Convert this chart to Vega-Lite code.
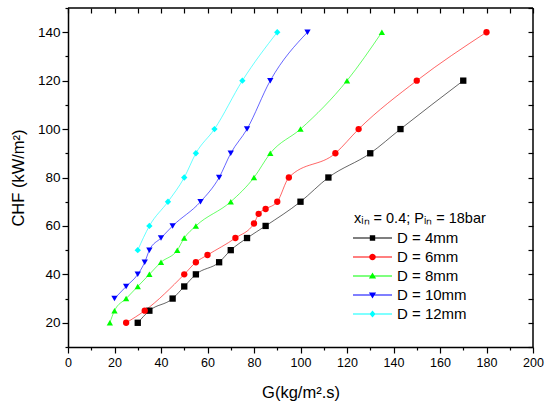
{
  "$schema": "https://vega.github.io/schema/vega-lite/v6.json",
  "width": 465,
  "height": 339,
  "autosize": "none",
  "padding": {"left": 68, "top": 8, "right": 17, "bottom": 61},
  "background": "white",
  "config": {
    "font": "Liberation Sans",
    "view": {"stroke": null},
    "axis": {"grid": false, "domainColor": "black", "domainWidth": 1.5, "tickColor": "black", "tickWidth": 1.2, "labelColor": "black", "titleColor": "black", "labelFontSize": 12.5, "titleFontSize": 16.5, "titleFontWeight": "normal"}
  },
  "data": {
    "values": [
      {"G": 30, "CHF": 20, "series": "D = 4mm"},
      {"G": 35, "CHF": 25, "series": "D = 4mm"},
      {"G": 45, "CHF": 30, "series": "D = 4mm"},
      {"G": 50, "CHF": 35, "series": "D = 4mm"},
      {"G": 55, "CHF": 40, "series": "D = 4mm"},
      {"G": 65, "CHF": 45, "series": "D = 4mm"},
      {"G": 70, "CHF": 50, "series": "D = 4mm"},
      {"G": 77, "CHF": 55, "series": "D = 4mm"},
      {"G": 85, "CHF": 60, "series": "D = 4mm"},
      {"G": 100, "CHF": 70, "series": "D = 4mm"},
      {"G": 112, "CHF": 80, "series": "D = 4mm"},
      {"G": 130, "CHF": 90, "series": "D = 4mm"},
      {"G": 143, "CHF": 100, "series": "D = 4mm"},
      {"G": 170, "CHF": 120, "series": "D = 4mm"},
      {"G": 25, "CHF": 20, "series": "D = 6mm"},
      {"G": 33, "CHF": 25, "series": "D = 6mm"},
      {"G": 50, "CHF": 40, "series": "D = 6mm"},
      {"G": 55, "CHF": 45, "series": "D = 6mm"},
      {"G": 60, "CHF": 48, "series": "D = 6mm"},
      {"G": 72, "CHF": 55, "series": "D = 6mm"},
      {"G": 80, "CHF": 61, "series": "D = 6mm"},
      {"G": 82, "CHF": 65, "series": "D = 6mm"},
      {"G": 85, "CHF": 67, "series": "D = 6mm"},
      {"G": 90, "CHF": 70, "series": "D = 6mm"},
      {"G": 95, "CHF": 80, "series": "D = 6mm"},
      {"G": 115, "CHF": 90, "series": "D = 6mm"},
      {"G": 125, "CHF": 100, "series": "D = 6mm"},
      {"G": 150, "CHF": 120, "series": "D = 6mm"},
      {"G": 180, "CHF": 140, "series": "D = 6mm"},
      {"G": 18, "CHF": 20, "series": "D = 8mm"},
      {"G": 20, "CHF": 25, "series": "D = 8mm"},
      {"G": 25, "CHF": 30, "series": "D = 8mm"},
      {"G": 30, "CHF": 35, "series": "D = 8mm"},
      {"G": 35, "CHF": 40, "series": "D = 8mm"},
      {"G": 40, "CHF": 45, "series": "D = 8mm"},
      {"G": 47, "CHF": 50, "series": "D = 8mm"},
      {"G": 50, "CHF": 55, "series": "D = 8mm"},
      {"G": 55, "CHF": 60, "series": "D = 8mm"},
      {"G": 70, "CHF": 70, "series": "D = 8mm"},
      {"G": 80, "CHF": 80, "series": "D = 8mm"},
      {"G": 87, "CHF": 90, "series": "D = 8mm"},
      {"G": 100, "CHF": 100, "series": "D = 8mm"},
      {"G": 120, "CHF": 120, "series": "D = 8mm"},
      {"G": 135, "CHF": 140, "series": "D = 8mm"},
      {"G": 20, "CHF": 30, "series": "D = 10mm"},
      {"G": 25, "CHF": 35, "series": "D = 10mm"},
      {"G": 30, "CHF": 40, "series": "D = 10mm"},
      {"G": 33, "CHF": 45, "series": "D = 10mm"},
      {"G": 35, "CHF": 50, "series": "D = 10mm"},
      {"G": 40, "CHF": 55, "series": "D = 10mm"},
      {"G": 45, "CHF": 60, "series": "D = 10mm"},
      {"G": 57, "CHF": 70, "series": "D = 10mm"},
      {"G": 65, "CHF": 80, "series": "D = 10mm"},
      {"G": 70, "CHF": 90, "series": "D = 10mm"},
      {"G": 77, "CHF": 100, "series": "D = 10mm"},
      {"G": 87, "CHF": 120, "series": "D = 10mm"},
      {"G": 103, "CHF": 140, "series": "D = 10mm"},
      {"G": 30, "CHF": 50, "series": "D = 12mm"},
      {"G": 35, "CHF": 60, "series": "D = 12mm"},
      {"G": 43, "CHF": 70, "series": "D = 12mm"},
      {"G": 50, "CHF": 80, "series": "D = 12mm"},
      {"G": 55, "CHF": 90, "series": "D = 12mm"},
      {"G": 63, "CHF": 100, "series": "D = 12mm"},
      {"G": 75, "CHF": 120, "series": "D = 12mm"},
      {"G": 90, "CHF": 140, "series": "D = 12mm"}
    ]
  },
  "layer": [
    {
      "data": {"values": [{"edge": "right"}]},
      "mark": {"type": "rule", "color": "black", "strokeWidth": 1.5},
      "encoding": {
        "x": {"datum": 200, "type": "quantitative", "scale": {"domain": [0, 200], "nice": false, "zero": false},
          "axis": {"orient": "top", "title": null, "labels": false, "domain": false, "tickSize": 5, "offset": -5, "values": [0,10,20,30,40,50,60,70,80,90,100,110,120,130,140,150,160,170,180,190,200]}}
      }
    },
    {
      "data": {"values": [{"edge": "top"}]},
      "mark": {"type": "rule", "color": "black", "strokeWidth": 1.5},
      "encoding": {
        "y": {"datum": 150, "type": "quantitative", "scale": {"domain": [10, 150], "nice": false, "zero": false},
          "axis": {"orient": "right", "title": null, "labels": false, "domain": false, "tickSize": 5, "offset": -5, "values": [10,20,30,40,50,60,70,80,90,100,110,120,130,140,150]}}
      }
    },
    {
      "mark": {"type": "line", "interpolate": "monotone", "strokeWidth": 1, "opacity": 0.6},
      "encoding": {
        "x": {"field": "G", "type": "quantitative", "scale": {"domain": [0, 200], "nice": false, "zero": false},
          "axis": {"orient": "bottom", "title": "G(kg/m².s)", "values": [0,10,20,30,40,50,60,70,80,90,100,110,120,130,140,150,160,170,180,190,200],
            "labelExpr": "datum.value % 20 === 0 ? datum.label : ''",
            "tickSize": {"condition": {"test": "datum.value % 20 === 0", "value": 6}, "value": 3},
            "labelPadding": 3, "titlePadding": 16, "labelFlush": false}},
        "y": {"field": "CHF", "type": "quantitative", "scale": {"domain": [10, 150], "nice": false, "zero": false},
          "axis": {"orient": "left", "title": "CHF (kW/m²)", "values": [10,20,30,40,50,60,70,80,90,100,110,120,130,140,150],
            "labelExpr": "datum.value % 20 === 0 ? datum.label : ''",
            "tickSize": {"condition": {"test": "datum.value % 20 === 0", "value": 6}, "value": 3},
            "labelPadding": 2, "labelFontSize": 13.5, "titlePadding": 11, "labelFlush": false}},
        "color": {"field": "series", "type": "nominal", "legend": null,
          "scale": {"domain": ["D = 4mm", "D = 6mm", "D = 8mm", "D = 10mm", "D = 12mm"], "range": ["#000000", "#FF0000", "#00FF00", "#0000FF", "#00FFFF"]}},
        "detail": {"field": "series"},
        "order": {"field": "G", "type": "quantitative"}
      }
    },
    {
      "mark": {"type": "point", "filled": true, "opacity": 1, "size": 40},
      "encoding": {
        "x": {"field": "G", "type": "quantitative", "scale": {"domain": [0, 200], "nice": false, "zero": false}, "axis": null},
        "y": {"field": "CHF", "type": "quantitative", "scale": {"domain": [10, 150], "nice": false, "zero": false}, "axis": null},
        "color": {"field": "series", "type": "nominal", "legend": null,
          "scale": {"domain": ["D = 4mm", "D = 6mm", "D = 8mm", "D = 10mm", "D = 12mm"], "range": ["#000000", "#FF0000", "#00FF00", "#0000FF", "#00FFFF"]}},
        "shape": {"field": "series", "type": "nominal", "legend": null,
          "scale": {"domain": ["D = 4mm", "D = 6mm", "D = 8mm", "D = 10mm", "D = 12mm"], "range": ["square", "circle", "triangle-up", "triangle-down", "diamond"]}}
      }
    },
    {
      "transform": [{"filter": "false"}],
      "mark": {"type": "point", "filled": true, "opacity": 1, "size": 36},
      "encoding": {
        "color": {"field": "series", "type": "nominal",
          "scale": {"domain": ["D = 4mm", "D = 6mm", "D = 8mm", "D = 10mm", "D = 12mm"], "range": ["#000000", "#FF0000", "#00FF00", "#0000FF", "#00FFFF"]},
          "legend": {"orient": "none", "legendX": 286, "legendY": 204, "title": "xᵢₙ = 0.4; Pᵢₙ = 18bar", "titleFontSize": 14.5, "titleFontWeight": "normal", "titleColor": "black", "titlePadding": 4, "titleBaseline": "top",
            "labelFontSize": 15, "labelColor": "black", "symbolSize": 36, "symbolOffset": 11, "labelOffset": 17, "rowPadding": 3, "padding": 0, "symbolStrokeWidth": 0, "symbolOpacity": 1}},
        "shape": {"field": "series", "type": "nominal",
          "scale": {"domain": ["D = 4mm", "D = 6mm", "D = 8mm", "D = 10mm", "D = 12mm"],
            "range": [
              "M-6.5,-0.17H6.5V0.17H-6.5ZM-0.9,-0.9H0.9V0.9H-0.9Z",
              "M-6.5,-0.17H6.5V0.17H-6.5ZM1.1,0A1.1,1.1,0,1,1,-1.1,0A1.1,1.1,0,1,1,1.1,0Z",
              "M-6.5,-0.17H6.5V0.17H-6.5ZM0,-1.2L1.2,0.85H-1.2Z",
              "M-6.5,-0.17H6.5V0.17H-6.5ZM0,1.2L-1.2,-0.85H1.2Z",
              "M-6.5,-0.17H6.5V0.17H-6.5ZM0,-1.2L1,0L0,1.2L-1,0Z"
            ]},
          "legend": {"orient": "none", "legendX": 286, "legendY": 204, "title": "xᵢₙ = 0.4; Pᵢₙ = 18bar", "titleFontSize": 14.5, "titleFontWeight": "normal", "titleColor": "black", "titlePadding": 4, "titleBaseline": "top",
            "labelFontSize": 15, "labelColor": "black", "symbolSize": 36, "symbolOffset": 11, "labelOffset": 17, "rowPadding": 3, "padding": 0, "symbolStrokeWidth": 0, "symbolOpacity": 1}}
      }
    }
  ],
  "resolve": {"axis": {"x": "independent", "y": "independent"}, "scale": {"x": "independent", "y": "independent", "shape": "independent", "color": "independent"}}
}
